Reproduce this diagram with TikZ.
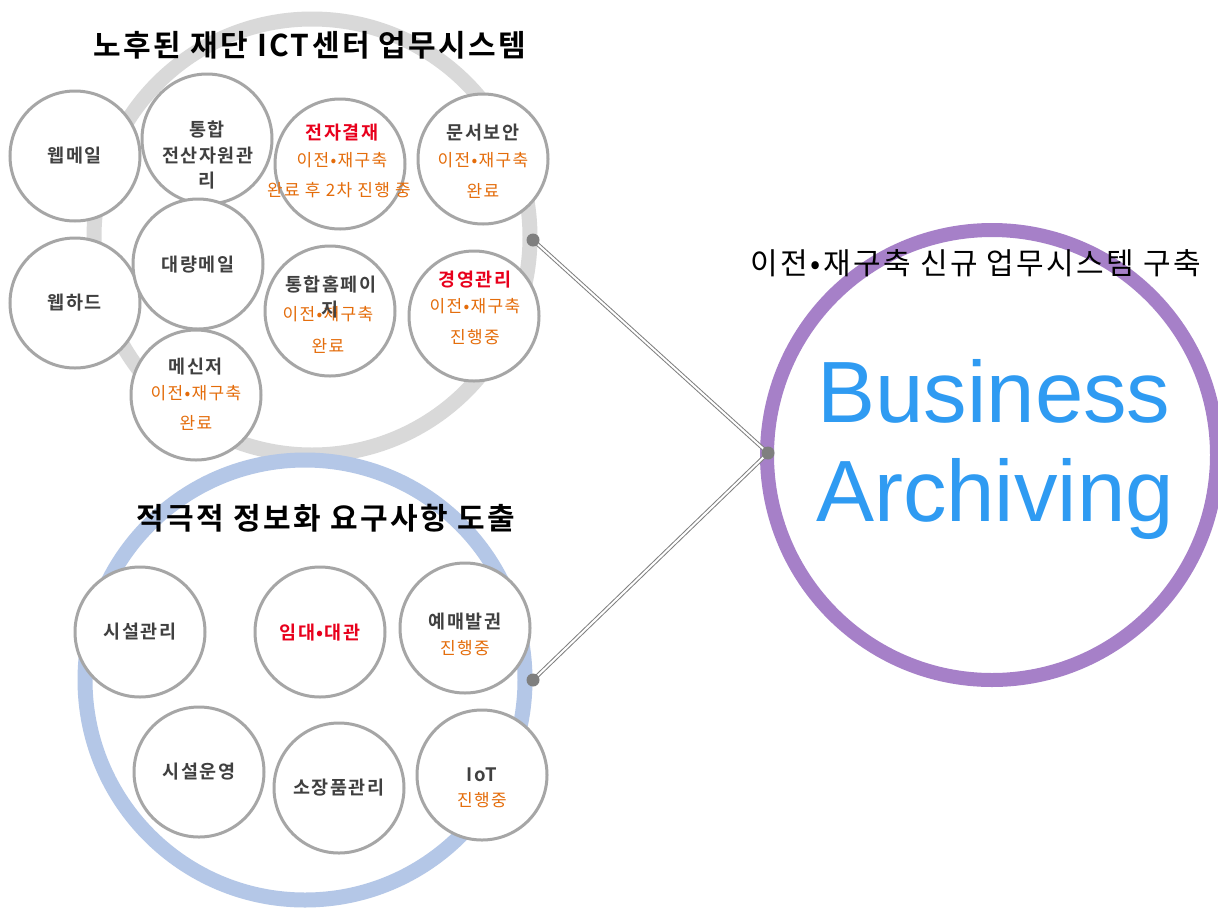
\documentclass[tikz,border=0pt]{standalone}
\usepackage{fontspec}
\newfontfamily\kr[BoldFont={Noto Sans CJK KR Bold}, LetterSpace=8]{Noto Sans CJK KR}
\newfontfamily\lat{Liberation Sans}
\definecolor{ringgray}{HTML}{D9D9D9}
\definecolor{ringblue}{HTML}{B4C7E7}
\definecolor{ringpurple}{HTML}{A680C8}
\definecolor{cborder}{HTML}{A6A6A6}
\definecolor{txtdark}{HTML}{404040}
\definecolor{txtred}{HTML}{E8001C}
\definecolor{txtorange}{HTML}{E46C0A}
\definecolor{bablue}{HTML}{2F9BF2}
\definecolor{dotgray}{HTML}{7F7F7F}
\tikzset{
  sys/.style={circle, draw=cborder, line width=3pt, fill=white, minimum size=130pt, inner sep=0pt},
  ring/.style={circle, line width=15pt, minimum size=#1, inner sep=0pt},
  nm/.style={font=\kr\bfseries\fontsize{18.5}{22}\selectfont, text=txtdark, inner sep=0pt},
  rd/.style={nm, text=txtred},
  st/.style={font=\kr\fontsize{17}{20}\selectfont, text=txtorange, inner sep=0pt},
  ttl/.style={font=\kr\bfseries\fontsize{30}{34}\selectfont, text=black, inner sep=0pt},
  dotn/.style={circle, fill=dotgray, minimum size=13pt, inner sep=0pt},
  conn/.style={draw=gray, line width=1pt, double=white, double distance=2pt},
}
\begin{document}
\begin{tikzpicture}[x=1pt,y=-1pt]
\useasboundingbox (0,0) rectangle (1218,911);
\fill[white] (0,0) rectangle (1218,911);
% rings
\node[ring=436pt, draw=ringgray] (oldring) at (312,237) {};
\node[ring=440pt, draw=ringblue] (newring) at (305,680) {};
% top group circles
\node[sys] (c1) at (75,156) {};
\node[sys] (c2) at (207,139) {};
\node[sys] (c5) at (75,303) {};
\node[sys] (c9) at (196,395) {};
\node[sys] (c6) at (198,264) {};
\node[sys] (c3) at (340,164) {};
\node[sys] (c7) at (330,311) {};
\node[sys] (c4) at (483,159) {};
\node[sys] (c8) at (474,316) {};
% top texts
\node[nm] (t1) at (75,156) {웹메일};
\node[nm] (t2a) at (207,130) {통합};
\node[nm] (t2b) at (208,156) {전산자원관};
\node[nm] (t2c) at (207,181) {리};
\node[nm] (t5) at (75,303) {웹하드};
\node[nm] (t6) at (198,265) {대량메일};
\node[rd] (t3a) at (342,133) {전자결재};
\node[st] (t3b) at (342,160) {이전•재구축};
\node[st] (t3c) at (339,190) {완료 후 2차 진행 중};
\node[nm] (t4a) at (483,133) {문서보안};
\node[st] (t4b) at (483,160) {이전•재구축};
\node[st] (t4c) at (483,191) {완료};
\node[nm] (t7a) at (331,285) {통합홈페이};
\node[st] (t7b) at (328,314) {이전•재구축};
\node[nm] (t7c) at (330,310) {지};
\node[st] (t7d) at (328,346) {완료};
\node[rd] (t8a) at (475,280) {경영관리};
\node[st] (t8b) at (475,306) {이전•재구축};
\node[st] (t8c) at (475,337) {진행중};
\node[nm] (t9a) at (196,367) {메신저};
\node[st] (t9b) at (196,393) {이전•재구축};
\node[st] (t9c) at (196,423) {완료};
% bottom group circles
\node[sys] (b1) at (140,632) {};
\node[sys] (b2) at (320,632) {};
\node[sys] (b3) at (465,628) {};
\node[sys] (b4) at (199,772) {};
\node[sys] (b5) at (339,788) {};
\node[sys] (b6) at (482,775) {};
\node[nm] (s1) at (140,632) {시설관리};
\node[rd] (s2) at (320,633) {임대•대관};
\node[nm] (s3a) at (465,622) {예매발권};
\node[st] (s3b) at (465,648) {진행중};
\node[nm] (s4) at (199,772) {시설운영};
\node[nm] (s5) at (339,788) {소장품관리};
\node[nm] (s6a) at (482,775) {IoT};
\node[st] (s6b) at (482,800) {진행중};
% titles
\node[ttl] (title1) at (310,45) {노후된 재단 ICT센터 업무시스템};
\node[ttl] (title2) at (326,518) {적극적 정보화 요구사항 도출};
% purple ring
\node[ring=450pt, draw=ringpurple, line width=14pt] (target) at (992,455) {};
\node[font=\kr\fontsize{30}{34}\selectfont, inner sep=0pt] (title3) at (976,263) {이전•재구축 신규 업무시스템 구축};
\node[font=\lat\fontsize{87}{100}\selectfont, text=bablue, inner sep=0pt] (ba1) at (994,391) {Business};
\node[font=\lat\fontsize{87}{100}\selectfont, text=bablue, inner sep=0pt] (ba2) at (995,499) {Archiving};
% connectors
\coordinate (p1) at (533,240);
\coordinate (p2) at (533,680);
\coordinate (p3) at (768,453);
\draw[conn] (p1) -- (p3);
\draw[conn] (p2) -- (p3);
\node[dotn] (d1) at (p1) {};
\node[dotn] (d2) at (p2) {};
\node[dotn] (d3) at (p3) {};
\end{tikzpicture}
\end{document}
